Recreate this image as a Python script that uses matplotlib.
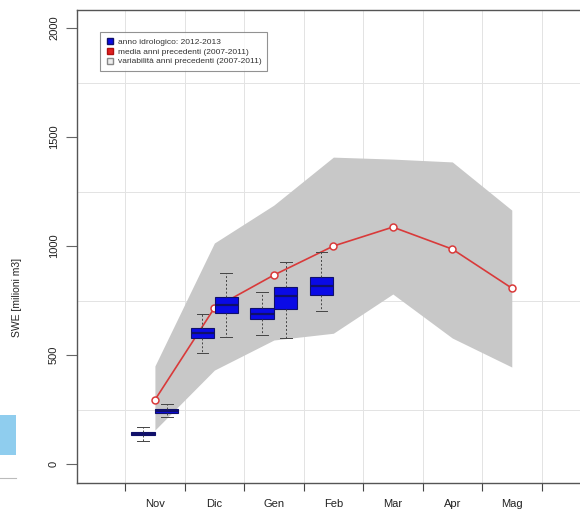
import numpy as np
import matplotlib
matplotlib.use("Agg")
import matplotlib.pyplot as plt
from matplotlib.lines import Line2D
from matplotlib.patches import Rectangle

# mesi (etichette centrate tra i tick)
mesi = ["Nov", "Dic", "Gen", "Feb", "Mar", "Apr", "Mag"]

# media e variabilita anni precedenti (2007-2011)
media_prec = [294, 716, 867, 1000, 1087, 986, 807]
max_prec = [450, 1014, 1188, 1408, 1399, 1386, 1165]
min_prec = [156, 431, 569, 600, 780, 578, 445]

# anno idrologico 2012-2013, due rilievi al mese
pos_box = [0.3, 0.7, 1.3, 1.7, 2.3, 2.7, 3.3]
q1 = [133, 236, 578, 693, 665, 711, 775]
mediana = [140, 243, 600, 729, 688, 770, 817]
q3 = [148, 252, 624, 766, 716, 812, 858]
whis_lo = [106, 216, 509, 583, 592, 578, 702]
whis_hi = [170, 275, 688, 876, 789, 927, 972]

plt.rcParams['font.family'] = ['Liberation Sans', 'DejaVu Sans']

fig = plt.figure(figsize=(5.8, 5.09), dpi=100)
ax = fig.add_axes([77 / 580, 26 / 509, 503 / 580, 473 / 509])

xm = np.arange(len(mesi)) + 0.5

# banda grigia min-max
ax.fill_between(xm, min_prec, max_prec, color="#c8c8c8", lw=0, zorder=1)

# media anni precedenti
ax.plot(xm, media_prec, color="#d93a3a", lw=1.2, marker="o", ms=5,
        mfc="white", mec="#d93a3a", mew=1.1, zorder=2)

# boxplot anno corrente
stats = []
for i in range(len(pos_box)):
    stats.append(dict(med=mediana[i], q1=q1[i], q3=q3[i],
                      whislo=whis_lo[i], whishi=whis_hi[i], fliers=[]))
ax.bxp(stats, positions=pos_box, widths=0.39, patch_artist=True,
       showfliers=False, manage_ticks=False,
       boxprops=dict(facecolor="#0a0ae6", edgecolor="#10106a", lw=0.8),
       medianprops=dict(color="#10106a", lw=1.6),
       whiskerprops=dict(color="#444444", lw=0.7, ls=(0, (2, 2))),
       capprops=dict(color="#444444", lw=0.7),
       capwidths=0.2, zorder=3)

ax.set_xlim(-0.81, 7.647)
ax.set_ylim(-87, 2083)

# griglia
ax.set_xticks(np.arange(0, 8))
ax.set_yticks(np.arange(0, 2001, 250), minor=True)
ax.grid(True, which="major", axis="x", color="#e3e3e3", lw=0.7, zorder=0)
ax.grid(True, which="minor", axis="y", color="#e3e3e3", lw=0.7, zorder=0)
ax.set_axisbelow(True)

ax.set_xticklabels([])
ax.tick_params(axis="x", which="major", length=6, width=0.8, color="#444444")
for x, m in zip(xm, mesi):
    ax.text(x, -0.045, m, transform=ax.get_xaxis_transform(), ha="center",
            va="center", fontsize=8, color="#222222")

ax.set_yticks(np.arange(0, 2001, 500))
ax.tick_params(axis="y", which="major", length=8, width=0.8, color="#666666",
               labelsize=8, labelcolor="#222222", pad=5)
ax.tick_params(axis="y", which="minor", length=0)
for lab in ax.get_yticklabels():
    lab.set_rotation(90)
    lab.set_va("center")

for s in ["left", "bottom", "top"]:
    ax.spines[s].set_color("#555555")
    ax.spines[s].set_linewidth(1.0)
ax.spines["right"].set_visible(False)

ax.set_ylabel("SWE [milioni m3]", fontsize=7.5, color="#222222")
ax.yaxis.set_label_coords(-55 / 503, 0.393)

handles = [
    Line2D([], [], ls="", marker="s", ms=5, mfc="#0a0ae6", mec="#10106a"),
    Line2D([], [], ls="", marker="s", ms=5, mfc="#e02020", mec="#b01010"),
    Line2D([], [], ls="", marker="s", ms=5, mfc="#eeeeee", mec="#888888"),
]
labels = ["anno idrologico: 2012-2013",
          "media anni precedenti (2007-2011)",
          "variabilità anni precedenti (2007-2011)"]
leg = ax.legend(handles, labels, loc="upper left",
                bbox_to_anchor=(23 / 503, 1 - 22 / 473), fontsize=6,
                frameon=True, fancybox=False, borderpad=0.7,
                labelspacing=0.25, handletextpad=0.4, handlelength=1.0,
                borderaxespad=0)
leg.get_frame().set_edgecolor("#777777")
leg.get_frame().set_linewidth(0.8)
for t in leg.get_texts():
    t.set_color("#333333")

# striscia azzurra sul bordo sinistro
fig.patches.append(Rectangle((0, 54 / 509), 16 / 580, 40 / 509,
                             transform=fig.transFigure, color="#8fcdee",
                             lw=0))
fig.lines.append(Line2D([0, 16 / 580], [31 / 509, 31 / 509],
                        transform=fig.transFigure, color="#bbbbbb", lw=0.8))

fig.savefig("out.png", dpi=100)
